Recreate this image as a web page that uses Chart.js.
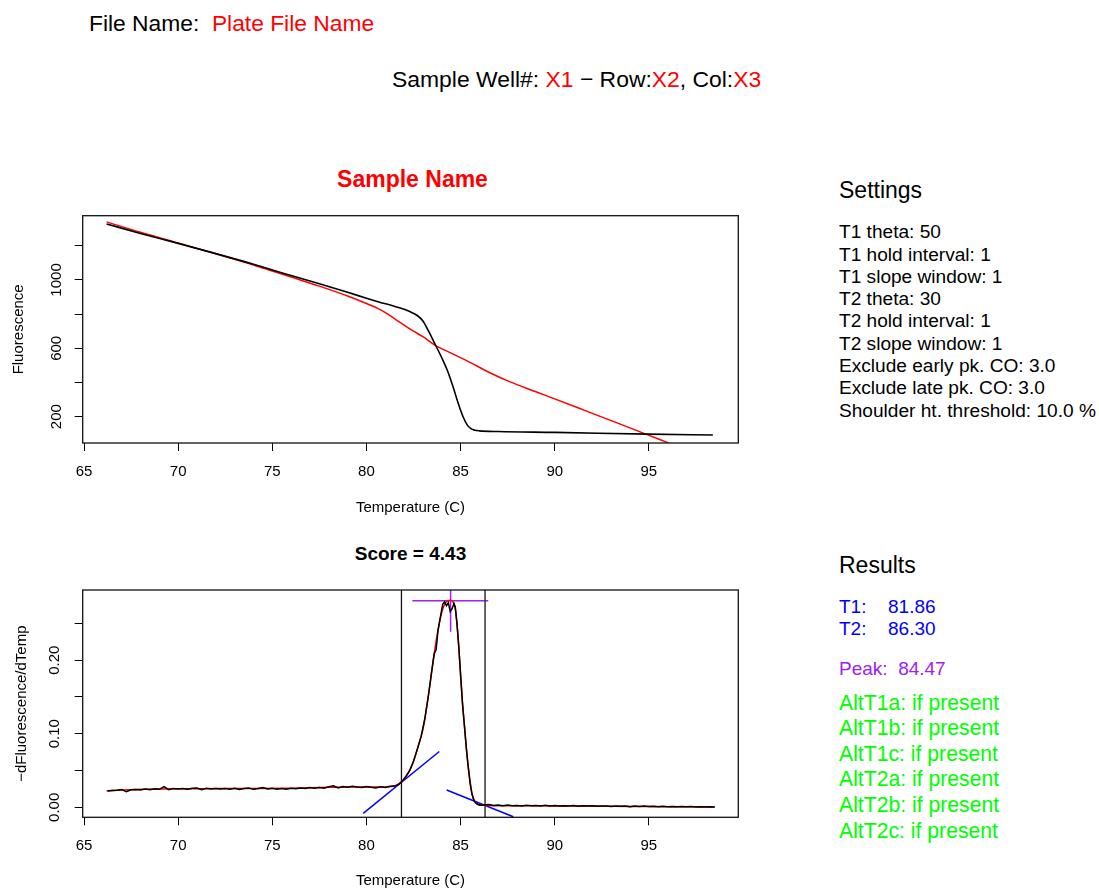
<!DOCTYPE html>
<html><head><meta charset="utf-8">
<script src="https://cdn.jsdelivr.net/npm/chart.js@4.4.1/dist/chart.umd.min.js"></script>
<style>
html,body{margin:0;padding:0;background:#fff;width:1099px;height:888px;overflow:hidden;position:relative;font-family:"Liberation Sans",Arial,sans-serif;}
.t{position:absolute;line-height:1;white-space:pre;color:#000;}
.red{color:#ff0000;}
.blue{color:#0000ff;}
.purple{color:#a020f0;}
.green{color:#00ff00;}
canvas{position:absolute;left:0;}
</style></head><body>
<div class="t" style="left:89px;top:12px;font-size:22.8px;">File Name:  <span class="red">Plate File Name</span></div>
<div class="t" style="left:392px;top:68px;font-size:22.9px;">Sample Well#: <span class="red">X1</span> − Row:<span class="red">X2</span>, Col:<span class="red">X3</span></div>
<div class="t red" style="left:212px;width:401px;text-align:center;top:168px;font-size:23px;font-weight:bold;">Sample Name</div>
<div class="t" style="left:210px;width:401px;text-align:center;top:544px;font-size:19px;font-weight:bold;">Score = 4.43</div>

<div id="settings"></div>
<div id="results"></div>

<canvas id="c1" width="760" height="370" style="top:160px"></canvas>
<canvas id="c2" width="760" height="340" style="top:560px"></canvas>

<script>
// ---------- data ----------
const xTicks = [65, 70, 75, 80, 85, 90, 95];
const fluorTicks = [200, 400, 600, 800, 1000, 1200];
const fluorLabels = [200, 600, 1000];
const derivTicks = [0, 0.05, 0.10, 0.15, 0.20, 0.25];
const derivLabels = [0, 0.10, 0.20];

// raw melt curve (black)
const meltTemps = [66.2, 68, 70, 72, 74, 75, 76, 77.5, 79, 80, 80.7, 81.3, 81.8, 82.3, 82.7, 83.0, 83.3, 83.64, 84.0, 84.3, 84.6, 84.9, 85.15, 85.35, 85.55, 85.75, 86.0, 87, 90, 95, 98.4];
const meltRaw = [1328, 1272, 1214, 1154, 1092, 1058, 1026, 978, 928, 893, 870, 852, 836, 815, 792, 760, 700, 625, 545, 470, 375, 270, 195, 152, 130, 121, 117, 113, 108, 98, 93];
// fitted melt curve (red)
const fitMeltTemps = [66.2, 68, 70, 72, 74, 75, 76, 77.5, 79, 80, 80.7, 81.3, 81.78, 82.5, 83.0, 83.64, 84.5, 85.5, 86.5, 87.6, 89, 91.3, 93, 94.7, 96.1];
const fitMelt = [1340, 1279, 1216, 1153, 1088, 1052, 1017, 964, 906, 862, 828, 788, 752, 700, 668, 619, 572, 518, 460, 405, 346, 249, 177, 104, 44];

// derivative (black, raw)
const derivTemps = [66.25, 66.5, 66.75, 67.0, 67.25, 67.5, 67.75, 68.0, 68.25, 68.5, 68.75, 69.0, 69.25, 69.5, 69.75, 70.0, 70.25, 70.5, 70.75, 71.0, 71.25, 71.5, 71.75, 72.0, 72.25, 72.5, 72.75, 73.0, 73.25, 73.5, 73.75, 74.0, 74.25, 74.5, 74.75, 75.0, 75.25, 75.5, 75.75, 76.0, 76.25, 76.5, 76.75, 77.0, 77.25, 77.5, 77.75, 78.0, 78.25, 78.5, 78.75, 79.0, 79.25, 79.5, 79.75, 80.0, 80.25, 80.5, 80.75, 81.0, 81.25, 81.5, 81.7, 81.9, 82.1, 82.3, 82.5, 82.7, 82.9, 83.1, 83.3, 83.45, 83.6, 83.7, 83.8, 83.95, 84.05, 84.15, 84.25, 84.35, 84.45, 84.55, 84.65, 84.72, 84.8, 84.9, 85.0, 85.1, 85.2, 85.3, 85.4, 85.5, 85.6, 85.7, 85.8, 85.9, 86.0, 86.25, 86.5, 86.75, 87.0, 87.25, 87.5, 87.75, 88.0, 88.25, 88.5, 88.75, 89.0, 89.25, 89.5, 89.75, 90.0, 90.25, 90.5, 90.75, 91.0, 91.25, 91.5, 91.75, 92.0, 92.25, 92.5, 92.75, 93.0, 93.25, 93.5, 93.75, 94.0, 94.25, 94.5, 94.75, 95.0, 95.25, 95.5, 95.75, 96.0, 96.25, 96.5, 96.75, 97.0, 97.25, 97.5, 97.75, 98.0, 98.25, 98.5];
const derivRaw = [0.0222, 0.0228, 0.0232, 0.0240, 0.0212, 0.0238, 0.0242, 0.0236, 0.0248, 0.0240, 0.0252, 0.0244, 0.0282, 0.0240, 0.0255, 0.0248, 0.0256, 0.0244, 0.0258, 0.0262, 0.0240, 0.0258, 0.0250, 0.0256, 0.0248, 0.0254, 0.0246, 0.0258, 0.0242, 0.0256, 0.0262, 0.0244, 0.0256, 0.0268, 0.0248, 0.0260, 0.0246, 0.0256, 0.0244, 0.0258, 0.0252, 0.0262, 0.0256, 0.0268, 0.0260, 0.0270, 0.0258, 0.0278, 0.0292, 0.0262, 0.0282, 0.0274, 0.0286, 0.0276, 0.0268, 0.0282, 0.0272, 0.0264, 0.0278, 0.0270, 0.0286, 0.0288, 0.0310, 0.0355, 0.0420, 0.0500, 0.0625, 0.0790, 0.0960, 0.1200, 0.1530, 0.1820, 0.2090, 0.2140, 0.2400, 0.2620, 0.2760, 0.2795, 0.2740, 0.2780, 0.2660, 0.2700, 0.2770, 0.2720, 0.2520, 0.2200, 0.1800, 0.1420, 0.1120, 0.0820, 0.0560, 0.0340, 0.0180, 0.0100, 0.0060, 0.0040, 0.0032, 0.0030, 0.0038, 0.0024, 0.0032, 0.0022, 0.0030, 0.0020, 0.0026, 0.0018, 0.0027, 0.0021, 0.0025, 0.0017, 0.0028, 0.0019, 0.0023, 0.0016, 0.0022, 0.0018, 0.0024, 0.0015, 0.0021, 0.0017, 0.0022, 0.0013, 0.0019, 0.0016, 0.0010, 0.0018, 0.0014, 0.0019, 0.0008, 0.0016, 0.0012, 0.0017, 0.0010, 0.0014, 0.0009, 0.0013, 0.0008, 0.0012, 0.0007, 0.0011, 0.0006, 0.0010, 0.0005, 0.0009, 0.0004, 0.0007, 0.0003];
// derivative (red, fitted)
const fitDerivTemps = [66.2, 67, 68, 69, 70, 72, 74, 76, 77, 78, 79, 80, 80.8, 81.3, 81.6, 81.86, 82.1, 82.3, 82.5, 82.75, 83.0, 83.2, 83.4, 83.55, 83.7, 83.85, 84.0, 84.15, 84.3, 84.45, 84.6, 84.7, 84.8, 84.9, 85.0, 85.1, 85.2, 85.3, 85.4, 85.5, 85.6, 85.7, 85.8, 85.95, 86.3, 88, 90, 92, 94, 96, 98.5];
const fitDeriv = [0.0222, 0.0236, 0.0244, 0.0249, 0.0252, 0.0254, 0.0256, 0.0260, 0.0265, 0.0272, 0.0277, 0.0276, 0.0275, 0.0282, 0.0300, 0.0345, 0.0420, 0.0505, 0.0625, 0.0830, 0.1060, 0.1370, 0.1720, 0.2000, 0.2260, 0.2480, 0.2650, 0.2760, 0.2805, 0.2815, 0.2790, 0.2720, 0.2520, 0.2200, 0.1800, 0.1420, 0.1120, 0.0820, 0.0570, 0.0360, 0.0200, 0.0110, 0.0065, 0.0035, 0.0026, 0.0022, 0.0019, 0.0016, 0.0012, 0.0009, 0.0004];

// results / markers
const t1 = 81.86, t2 = 86.30, peakT = 84.47, peakH = 0.2808;
const tangent1X = [79.83, 83.87], tangent1Y = [-0.0082, 0.0758];
const tangent2X = [84.26, 87.80], tangent2Y = [0.0236, -0.0128];
const peakBarX = [82.44, 86.47];
const peakStemY = [0.2385, 0.30];

const settings = ["T1 theta: 50", "T1 hold interval: 1", "T1 slope window: 1", "T2 theta: 30", "T2 hold interval: 1", "T2 slope window: 1", "Exclude early pk. CO: 3.0", "Exclude late pk. CO: 3.0", "Shoulder ht. threshold: 10.0 %"];
const altLines = ["AltT1a: if present", "AltT1b: if present", "AltT1c: if present", "AltT2a: if present", "AltT2b: if present", "AltT2c: if present"];

// ---------- side panel ----------
(function(){
  let h = '<div class="t" style="left:839px;top:179px;font-size:23px;">Settings</div>';
  settings.forEach((s,i)=>{ h += `<div class="t" style="left:839px;top:${(222.2+i*22.3).toFixed(1)}px;font-size:19.1px;">${s}</div>`; });
  document.getElementById('settings').innerHTML = h;
  let r = '<div class="t" style="left:839px;top:554px;font-size:23px;">Results</div>';
  r += `<div class="t blue" style="left:839px;top:597px;font-size:19px;">T1:</div><div class="t blue" style="left:888px;top:597px;font-size:19px;">${t1.toFixed(2)}</div>`;
  r += `<div class="t blue" style="left:839px;top:619px;font-size:19px;">T2:</div><div class="t blue" style="left:888px;top:619px;font-size:19px;">${t2.toFixed(2)}</div>`;
  r += `<div class="t purple" style="left:839px;top:659px;font-size:19px;">Peak:  ${peakT.toFixed(2)}</div>`;
  altLines.forEach((s,i)=>{ r += `<div class="t green" style="left:839px;top:${(691.5+i*25.6).toFixed(1)}px;font-size:21.2px;">${s}</div>`; });
  document.getElementById('results').innerHTML = r;
})();

// ---------- charts ----------
const FONT = "'Liberation Sans', Arial, sans-serif";
const xMin = 64.93, xMax = 99.75;
const pts = (xs, ys) => xs.map((x,i)=>({x:x, y:ys[i]}));

const boxPlugin = { id:'box', afterDraw(chart){
  const {ctx, chartArea:a} = chart;
  ctx.save(); ctx.strokeStyle='#111'; ctx.lineWidth=1.3;
  ctx.strokeRect(a.left, a.top, a.right-a.left, a.bottom-a.top); ctx.restore();
}};

function xScale(h, pb){ return {
  type:'linear', min:xMin, max:xMax,
  afterBuildTicks: s => { s.ticks = xTicks.map(v=>({value:v})); },
  afterFit: s => { s.height = h; },
  grid:{drawOnChartArea:false, drawTicks:true, tickLength:8, tickColor:'#000', tickWidth:1},
  border:{display:false},
  ticks:{color:'#000', font:{family:FONT,size:15}, padding:12, maxRotation:0, minRotation:0, autoSkip:false, callback:v=>String(v)},
  title:{display:true, text:'Temperature (C)', color:'#000', font:{family:FONT,size:15}, padding:{top:0,bottom:pb}}
};}
function yScale(min, max, ticks, labels, dec, pad, title, tpad){ return {
  type:'linear', min:min, max:max,
  afterBuildTicks: s => { s.ticks = ticks.map(v=>({value:v})); },
  afterFit: s => { s.width = 82.7; },
  grid:{drawOnChartArea:false, drawTicks:true, tickLength:8, tickColor:'#000', tickWidth:1},
  border:{display:false},
  ticks:{color:'#000', font:{family:FONT,size:15}, padding:pad, minRotation:90, maxRotation:90, crossAlign:'center', autoSkip:false,
         callback:v=> labels.includes(v) ? v.toFixed(dec) : ''},
  title:{display:true, text:title, color:'#000', font:{family:FONT,size:15}, padding:{top:tpad,bottom:0}}
};}
const common = {
  responsive:false, animation:false, events:[],
  plugins:{legend:{display:false}, tooltip:{enabled:false}, title:{display:false}},
  elements:{point:{radius:0}, line:{borderWidth:1.5, fill:false}}
};
const ds = (data, color, w, extra) => Object.assign({data:data, borderColor:color, backgroundColor:color, borderWidth:w, pointRadius:0, tension:0}, extra||{});

new Chart(document.getElementById('c1'), {
  type:'line',
  data:{datasets:[
    ds(pts(meltTemps, meltRaw), '#000', 1.6, {cubicInterpolationMode:'monotone'}),
    ds(pts(fitMeltTemps, fitMelt), '#ff0000', 1.5, {cubicInterpolationMode:'monotone'})
  ]},
  options:Object.assign({}, common, {
    layout:{padding:{top:55.7, right:21.7, left:0, bottom:0}},
    scales:{
      x: xScale(87, 13),
      y: yScale(46, 1376, fluorTicks, fluorLabels, 0, 1.3, 'Fluorescence', 10)
    }
  }),
  plugins:[boxPlugin]
});

const dMin = -0.0136, dMax = 0.2954;
new Chart(document.getElementById('c2'), {
  type:'line',
  data:{datasets:[
    ds(pts(derivTemps, derivRaw), '#000', 1.5),
    ds(pts(fitDerivTemps, fitDeriv), '#ff0000', 1.5, {cubicInterpolationMode:'monotone'}),
    ds(pts([t1,t1],[dMin,dMax]), '#111', 1.3),
    ds(pts([t2,t2],[dMin,dMax]), '#333', 1.5),
    ds(pts(tangent1X, tangent1Y), '#0000ff', 1.5),
    ds(pts(tangent2X, tangent2Y), '#0000ff', 1.5),
    ds(pts(peakBarX, [peakH, peakH]), '#a020f0', 1.5),
    ds(pts([peakT, peakT], peakStemY), '#a020f0', 1.5)
  ]},
  options:Object.assign({}, common, {
    layout:{padding:{top:30, right:21.7, left:0, bottom:0}},
    scales:{
      x: xScale(82.7, 10),
      y: yScale(dMin, dMax, derivTicks, derivLabels, 2, 5.1, '−dFluorescence/dTemp', 12.7)
    }
  }),
  plugins:[boxPlugin]
});
</script>
</body></html>
